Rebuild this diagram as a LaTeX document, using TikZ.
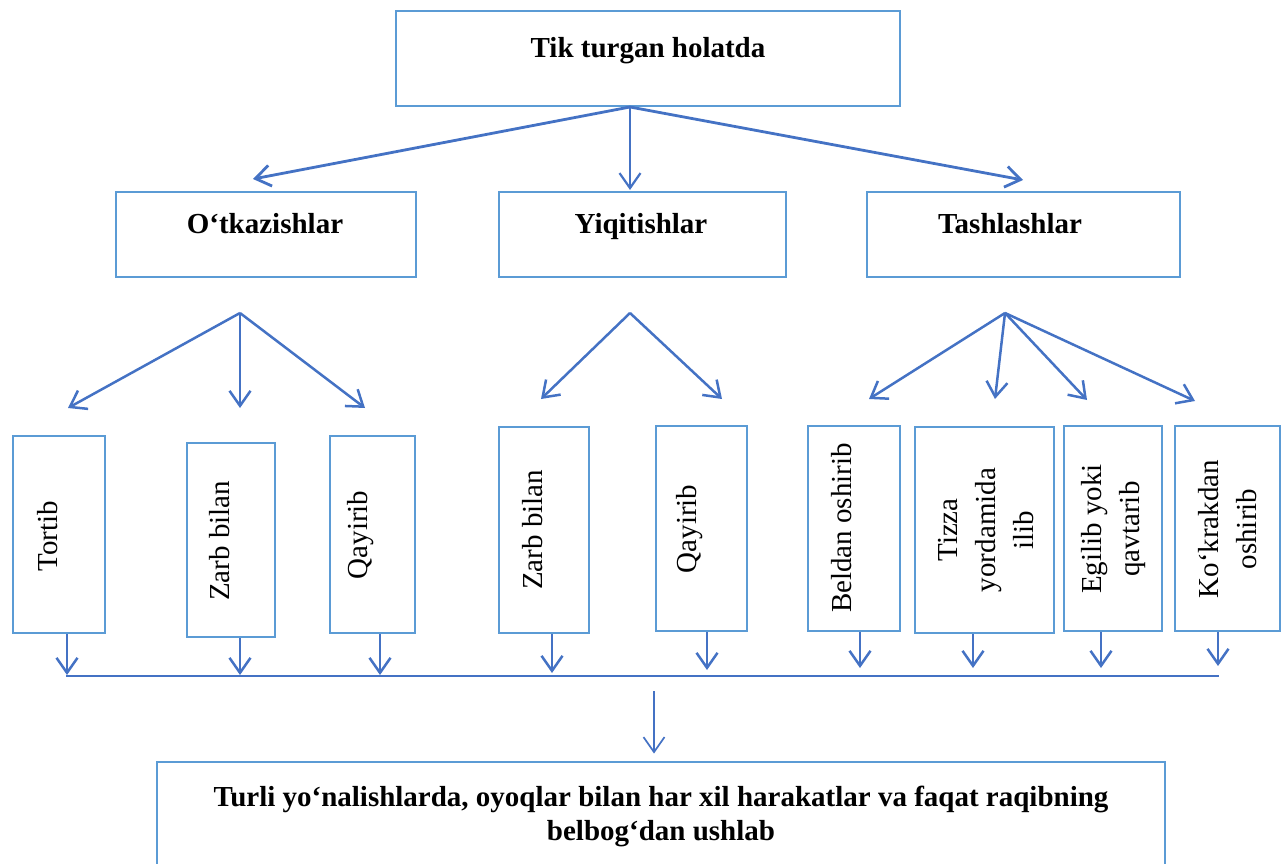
\documentclass[tikz,border=0pt]{standalone}
\usepackage{fontspec}
\setmainfont{Liberation Serif}
\usetikzlibrary{arrows.meta}
\definecolor{boxblue}{HTML}{5B9BD5}
\definecolor{arrblue}{HTML}{4472C4}
\begin{document}
\begin{tikzpicture}[x=1pt,y=-1pt,
  box/.style n args={2}{draw=boxblue,line width=2.9pt,minimum width=#1pt,minimum height=#2pt,inner sep=0pt},
  btxt/.style={font=\fontsize{29}{34}\selectfont\bfseries,align=center,inner sep=0pt},
  vtxt/.style={font=\fontsize{29}{38}\selectfont,align=center,rotate=90,inner sep=0pt},
  arr/.style={draw=arrblue,line width=2.5pt,-{Straight Barb[length=15pt,width=21pt]}},
  thinarr/.style={draw=arrblue,line width=1.7pt,-{Straight Barb[length=15pt,width=21pt]}},
  thinline/.style={draw=arrblue,line width=1.7pt}]
\useasboundingbox (0,0) rectangle (1284,864);
% boxes
\node[box={504}{95}] (top) at (648,58.5) {};
\node[box={300}{85}] (otk) at (266,234.5) {};
\node[box={287}{85}] (yiq) at (642.5,234.5) {};
\node[box={313}{85}] (tas) at (1023.5,234.5) {};
\node[box={92}{197}] (v1) at (59,534.5) {};
\node[box={88}{194}] (v2) at (231,540) {};
\node[box={85}{197}] (v3) at (372.5,534.5) {};
\node[box={90}{206}] (v4) at (544,530) {};
\node[box={91}{205}] (v5) at (701.5,528.5) {};
\node[box={92}{205}] (v6) at (854,528.5) {};
\node[box={139}{206}] (v7) at (984.5,530) {};
\node[box={98}{205}] (v8) at (1113,528.5) {};
\node[box={105}{205}] (v9) at (1227.5,528.5) {};
\node[box={1008}{138}] (bot) at (661,831) {};
% texts
\node[btxt,anchor=base] (ttop) at (648,58) {Tik turgan holatda};
\node[btxt,anchor=base] (totk) at (265,233) {O‘tkazishlar};
\node[btxt,anchor=base] (tyiq) at (641,233) {Yiqitishlar};
\node[btxt,anchor=base] (ttas) at (1010,233) {Tashlashlar};
\node[btxt] (tbot) at (661,816) {Turli yo‘nalishlarda, oyoqlar bilan har xil harakatlar va faqat raqibning\\belbog‘dan ushlab};
\node[vtxt] (t1) at (48,536) {Tortib};
\node[vtxt] (t2) at (220,541) {Zarb bilan};
\node[vtxt] (t3) at (361,535) {Qayirib};
\node[vtxt] (t4) at (533,530) {Zarb bilan};
\node[vtxt] (t5) at (690,529) {Qayirib};
\node[vtxt] (t6) at (842,528) {Beldan oshirib};
\node[vtxt] (t7) at (986,530) {Tizza\\yordamida\\ilib};
\node[vtxt] (t8) at (1114,529) {Egilib yoki\\qavtarib};
\node[vtxt] (t9) at (1228,529) {Ko‘krakdan\\oshirib};
% level 1 arrows
\coordinate (ts) at (630,107);
\coordinate (e1) at (253,179);
\coordinate (e2) at (630,190);
\coordinate (e3) at (1023,180);
\draw[arr,line width=2.8pt] (ts) -- (e1);
\draw[arr,line width=2.2pt] (ts) -- (e2);
\draw[arr,line width=2.8pt] (ts) -- (e3);
% level 2 arrows
\coordinate (b1) at (240,313);
\coordinate (b2) at (630,313);
\coordinate (b3) at (1005,313);
\coordinate (f1) at (68,408);
\coordinate (f2) at (240,408);
\coordinate (f3) at (365,408);
\coordinate (f4) at (541,399);
\coordinate (f5) at (722,399);
\coordinate (f6) at (869,399);
\coordinate (f7) at (995,399);
\coordinate (f8) at (1087,400);
\coordinate (f9) at (1195,401);
\draw[arr] (b1) -- (f1);
\draw[arr] (b1) -- (f2);
\draw[arr] (b1) -- (f3);
\draw[arr] (b2) -- (f4);
\draw[arr] (b2) -- (f5);
\draw[arr] (b3) -- (f6);
\draw[arr] (b3) -- (f7);
\draw[arr] (b3) -- (f8);
\draw[arr] (b3) -- (f9);
% down arrows to collecting line
\coordinate (d1) at (67,675);
\coordinate (d2) at (240,675);
\coordinate (d3) at (380,675);
\coordinate (d4) at (552,673);
\coordinate (d5) at (707,670);
\coordinate (d6) at (860,668);
\coordinate (d7) at (973,668);
\coordinate (d8) at (1101,668);
\coordinate (d9) at (1218,666);
\draw[arr] (v1.south -| d1) -- (d1);
\draw[arr] (v2.south -| d2) -- (d2);
\draw[arr] (v3.south -| d3) -- (d3);
\draw[arr] (v4.south -| d4) -- (d4);
\draw[arr] (v5.south -| d5) -- (d5);
\draw[arr] (v6.south -| d6) -- (d6);
\draw[arr] (v7.south -| d7) -- (d7);
\draw[arr] (v8.south -| d8) -- (d8);
\draw[arr] (v9.south -| d9) -- (d9);
\coordinate (hl) at (66,676);
\coordinate (hr) at (1219,676);
\draw[thinline] (hl) -- (hr);
% final arrow
\coordinate (ba) at (654,691);
\draw[thinarr] (ba) -- ([yshift=7pt]bot.north -| ba);
\end{tikzpicture}
\end{document}
